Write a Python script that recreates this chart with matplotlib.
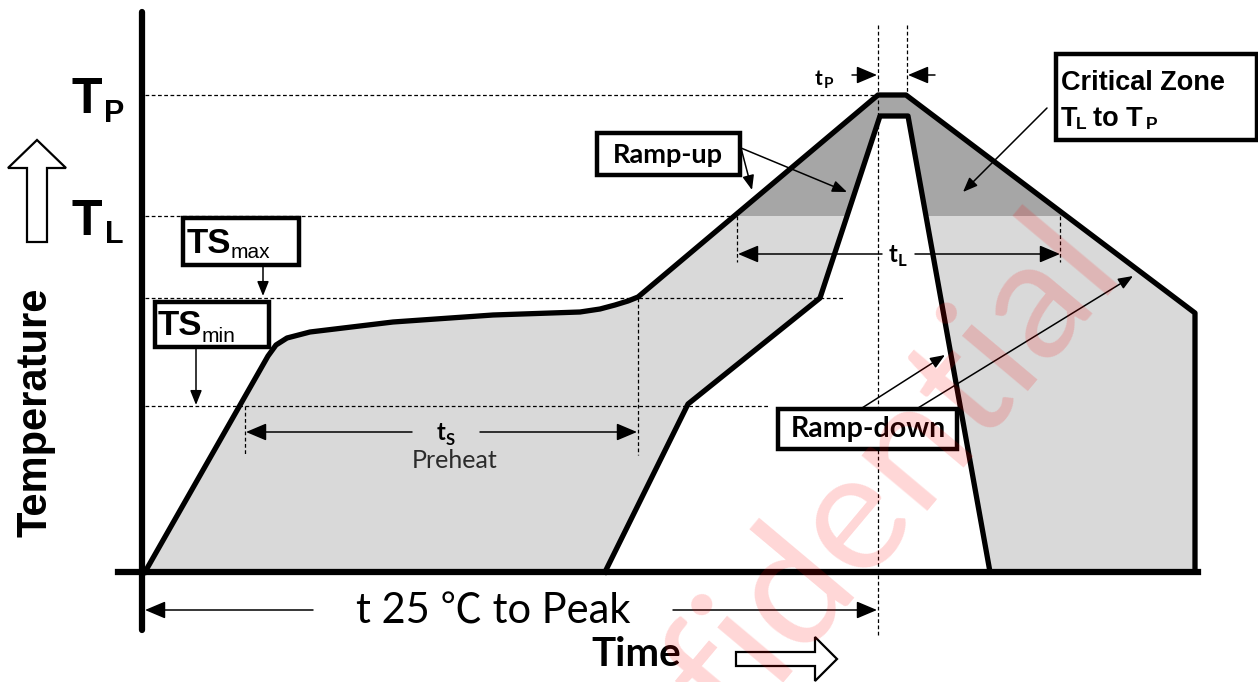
import matplotlib
matplotlib.use("Agg")
import matplotlib.pyplot as plt
from matplotlib.patches import Rectangle, Polygon

# ---------------- data (schematic drawing units: x = time, y = temperature, y grows downward) -------------
LEVEL_NAMES = ["TP", "TL", "TSmax", "TSmin", "T25"]
LEVEL_Y = [95, 216, 298, 406, 572]

# upper (maximum) reflow profile
outer_time = [145, 268, 276, 287, 310, 393, 493, 580, 600, 615, 628, 638, 878, 906, 1195, 1195]
outer_temp = [572, 356, 345, 338, 332, 322, 315, 312, 309, 305, 301, 297, 95, 95, 313, 572]
# lower (minimum) reflow profile
inner_time = [605, 688, 820, 880, 908, 990]
inner_temp = [572, 404, 298, 116, 116, 572]

# time markers
T_S_START, T_S_END = 245, 638
T_L_START, T_L_END = 737, 1060
T_PEAK_START, T_PEAK_END = 878, 907

LABEL_FONT = ["Lato", "Noto Sans CJK SC", "DejaVu Sans"]
BOLD_FONT = ["Liberation Sans", "DejaVu Sans"]

fig = plt.figure(figsize=(12.58, 6.82), dpi=100)
ax = fig.add_axes([0, 0, 1, 1])
ax.set_xlim(0, 1258)
ax.set_ylim(682, 0)
ax.axis("off")

TP, TL, TSMAX, TSMIN, T25 = LEVEL_Y

# ---------------- filled process window ----------------
poly_x = outer_time + inner_time[::-1]
poly_y = outer_temp + inner_temp[::-1]
xy = list(zip(poly_x, poly_y))
light = Polygon(xy, closed=True, facecolor="#d9d9d9", edgecolor="none", zorder=1)
ax.add_patch(light)
dark = Polygon(xy, closed=True, facecolor="#a6a6a6", edgecolor="none", zorder=1.5)
ax.add_patch(dark)
clip = Rectangle((0, 0), 1258, TL, transform=ax.transData)
dark.set_clip_path(clip)

ax.plot(outer_time, outer_temp, color="black", lw=3.8, zorder=4, solid_joinstyle="round")
ax.plot(inner_time, inner_temp, color="black", lw=3.8, zorder=4, solid_joinstyle="round")

# ---------------- axes ----------------
ax.plot([142, 142], [12, 630], color="black", lw=4.5, solid_capstyle="round", zorder=5)
ax.plot([118, 1198], [T25, T25], color="black", lw=4.5, zorder=5)

# ---------------- dotted guide lines ----------------
dot = dict(color="black", lw=0.9, linestyle=(0, (3, 2)), zorder=3)
ax.plot([145, T_PEAK_START], [TP, TP], **dot)
ax.plot([145, T_L_START], [TL, TL], **dot)
ax.plot([145, 845], [TSMAX, TSMAX], **dot)
ax.plot([145, 770], [TSMIN, TSMIN], **dot)
ax.plot([T_S_START, T_S_START], [TSMIN, 455], **dot)
ax.plot([T_S_END, T_S_END], [TSMAX, 455], **dot)
ax.plot([T_L_START, T_L_START], [TL, 262], **dot)
ax.plot([T_L_END, T_L_END], [TL, 262], **dot)
ax.plot([T_PEAK_START, T_PEAK_START], [25, 635], **dot)
ax.plot([T_PEAK_END, T_PEAK_END], [25, TP], **dot)


def arrow(x0, y0, x1, y1, big=False):
    if big:
        style = "-|>,head_length=0.9,head_width=0.38"
        ms = 14
    else:
        style = "-|>,head_length=0.8,head_width=0.32"
        ms = 11
    ax.annotate("", xy=(x1, y1), xytext=(x0, y0),
                arrowprops=dict(arrowstyle=style, color="black", lw=1.1,
                                mutation_scale=ms, shrinkA=0, shrinkB=0),
                zorder=6)


# duration arrows
arrow(412, 432, T_S_START + 1, 432, big=True)
arrow(480, 432, T_S_END - 1, 432, big=True)
arrow(882, 254, T_L_START + 1, 254, big=True)
arrow(915, 254, T_L_END, 254, big=True)
arrow(313, 610, 145, 610, big=True)
arrow(673, 610, T_PEAK_START - 1, 610, big=True)
arrow(852, 75, T_PEAK_START - 1, 75, big=True)
arrow(935, 75, T_PEAK_END + 1, 75, big=True)

# pointer arrows
arrow(263, 266, 263, 296)
arrow(196, 348, 196, 405)
arrow(741, 148, 752, 190)
arrow(741, 148, 847, 192)
arrow(1047, 108, 963, 192)
arrow(862, 408, 945, 355)
arrow(918, 408, 1133, 276)

# ---------------- boxes ----------------
def box(x0, y0, x1, y1):
    ax.add_patch(Rectangle((x0, y0), x1 - x0, y1 - y0, facecolor="white",
                           edgecolor="black", lw=3.2, zorder=7))


box(183, 218, 299, 265)
box(155, 302, 269, 347)
box(597, 133, 740, 175)
box(778, 409, 957, 449)
box(1056, 54, 1257, 140)

# ---------------- texts ----------------
def txt(x, y, s, size, fam=BOLD_FONT, weight="bold", ha="left", va="baseline", **kw):
    ax.text(x, y, s, fontsize=size, family=fam, fontweight=weight, ha=ha, va=va,
            zorder=8, **kw)


# level labels
txt(71, 113, "T", 36)
txt(104, 122, "P", 22)
txt(71, 235, "T", 36)
txt(105, 243, "L", 22)
txt(187, 253, "TS", 25)
txt(231, 258, "max", 15, weight="normal")
txt(158, 335, "TS", 25)
txt(202, 342, "min", 15, weight="normal")

# critical zone
txt(1061, 90, "Critical Zone", 19.5)
txt(1061, 126, "T", 19.5)
txt(1076, 129, "L", 12.5)
txt(1093, 126, "to T", 19.5)
txt(1146, 129, "P", 12.5)

# durations
txt(437, 440, "t", 17, fam=LABEL_FONT)
txt(446, 445, "S", 12, fam=LABEL_FONT)
txt(455, 460, "Preheat", 18, fam=LABEL_FONT, weight="normal", ha="center", va="center",
    color="#2b2b2b")
txt(889, 262, "t", 17, fam=LABEL_FONT)
txt(898, 266, "L", 12, fam=LABEL_FONT)
txt(815, 85, "t", 15, fam=LABEL_FONT)
txt(824, 88, "P", 11, fam=LABEL_FONT)

# box texts
txt(668, 155, "Ramp-up", 19.5, fam=LABEL_FONT, ha="center", va="center")
txt(868, 429, "Ramp-down", 20.5, fam=LABEL_FONT, ha="center", va="center")

# axis texts
txt(493, 611, "t 25 \u2103 to Peak", 30, fam=LABEL_FONT, weight="normal", ha="center", va="center")
txt(636, 655, "Time", 29, fam=LABEL_FONT, ha="center", va="center")
txt(36, 412, "Temperature", 30, ha="center", va="center", rotation=90)

# hollow arrows
ax.add_patch(Polygon([(27, 242), (47, 242), (47, 168), (66, 168), (37, 140), (8, 168), (27, 168)],
                     closed=True, facecolor="white", edgecolor="black", lw=1.6, zorder=8))
ax.add_patch(Polygon([(736, 652), (815, 652), (815, 637), (837, 659), (815, 681), (815, 666), (736, 666)],
                     closed=True, facecolor="white", edgecolor="black", lw=1.6, zorder=8))

# watermark
ax.text(795, 585, "Confidential", rotation=50, rotation_mode="anchor", fontsize=122,
        family=LABEL_FONT, fontweight="normal", color="red", alpha=0.16,
        ha="center", va="center", zorder=9)

fig.savefig("out.png", dpi=100)
